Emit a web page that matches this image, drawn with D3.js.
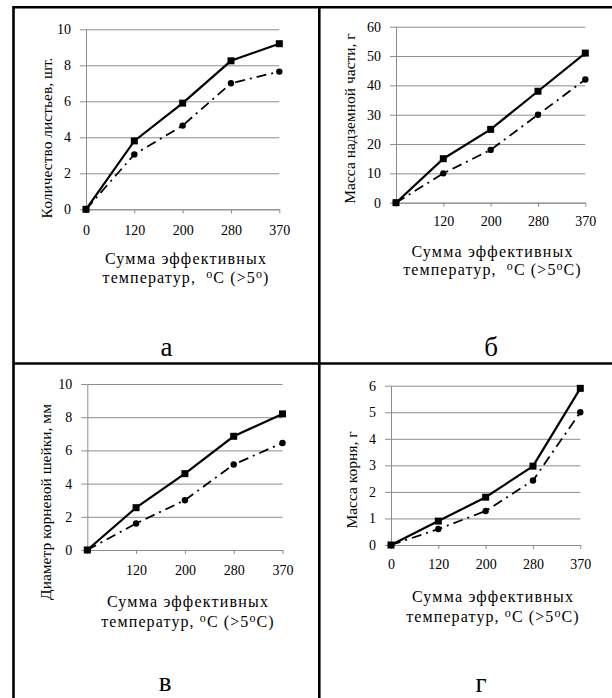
<!DOCTYPE html>
<html><head><meta charset="utf-8">
<script src="https://cdn.jsdelivr.net/npm/d3@7"></script>
<style>
html,body{margin:0;padding:0;background:#fff;}
svg{display:block;}
</style></head>
<body>
<svg id="c" width="612" height="698"></svg>
<script>
// ---------- data ----------
const categories = ["0","120","200","280","370"];
const xLabelsFull = ["0","120","200","280","370"];
const xLabelsNoZero = ["","120","200","280","370"];

// а: number of leaves
const leavesSolid  = [0, 3.8, 5.9, 8.25, 9.2];
const leavesDashed = [0, 3.05, 4.65, 7.0, 7.65];
const leavesTicks  = [0, 2, 4, 6, 8, 10];
// б: above-ground mass
const topMassSolid  = [0, 15, 25, 38, 51];
const topMassDashed = [0, 10, 18, 30, 42];
const topMassTicks  = [0, 10, 20, 30, 40, 50, 60];
// в: root collar diameter
const diamSolid  = [0, 2.55, 4.6, 6.85, 8.2];
const diamDashed = [0, 1.6, 3.0, 5.15, 6.45];
const diamTicks  = [0, 2, 4, 6, 8, 10];
// г: root mass
const rootSolid  = [0, 0.9, 1.8, 2.97, 5.9];
const rootDashed = [0, 0.6, 1.28, 2.43, 5.0];
const rootTicks  = [0, 1, 2, 3, 4, 5, 6];

const yTitles = ["Количество листьев, шт.", "Масса надземной части, г", "Диаметр корневой шейки, мм", "Масса корня, г"];
const panelLetters = ["а", "б", "в", "г"];
const xTitleLine1 = "Сумма эффективных";

const FONT = '"Liberation Serif", Tinos, "Times New Roman", "DejaVu Serif", "Noto Serif", serif';

// ---------- layout ----------
const panels = [
  {solid:leavesSolid, dashed:leavesDashed, ticks:leavesTicks, xl:xLabelsFull, yt:yTitles[0], letter:panelLetters[0],
   x0:86, x1:279.3, yb:209.3, yt0:29.3, ytx:47, yty:138, xtx:186, xty1:264, xty2:283, lx:166.5, ly:356, suffixC:false, wide:true, lblY:235},
  {solid:topMassSolid, dashed:topMassDashed, ticks:topMassTicks, xl:xLabelsNoZero, yt:yTitles[1], letter:panelLetters[1],
   x0:396, x1:585.3, yb:202.7, yt0:26.7, ytx:349.5, yty:118.5, xtx:492.5, xty1:256.5, xty2:274.5, lx:491, ly:356, suffixC:true, wide:true, lblY:226.5},
  {solid:diamSolid, dashed:diamDashed, ticks:diamTicks, xl:xLabelsNoZero, yt:yTitles[2], letter:panelLetters[2],
   x0:87.3, x1:282.5, yb:550, yt0:384, ytx:45.5, yty:502, xtx:188, xty1:606.5, xty2:626.5, lx:165, ly:691, suffixC:true, wide:false, lblY:574.5},
  {solid:rootSolid, dashed:rootDashed, ticks:rootTicks, xl:xLabelsFull, yt:yTitles[3], letter:panelLetters[3],
   x0:391, x1:580.3, yb:545, yt0:385.7, ytx:352, yty:480, xtx:493, xty1:602, xty2:622, lx:481, ly:692, suffixC:true, wide:false, lblY:569}
];

const svg = d3.select("#c");
const grid = "#8c8c8c";

panels.forEach(p => {
  const g = svg.append("g").attr("font-family", FONT);
  const x = d3.scalePoint().domain(d3.range(categories.length)).range([p.x0, p.x1]);
  const y = d3.scaleLinear().domain([0, d3.max(p.ticks)]).range([p.yb, p.yt0]);
  const w = p.x1 - p.x0;

  // gridlines
  const gg = g.append("g").attr("transform", `translate(${p.x0},0)`)
    .call(d3.axisLeft(y).tickValues(p.ticks).tickSize(-w).tickFormat(""));
  gg.select(".domain").remove();
  gg.selectAll("line").attr("stroke", grid).attr("stroke-width", 1);

  // y axis with outside ticks
  const ya = g.append("g").attr("transform", `translate(${p.x0},0)`)
    .call(d3.axisLeft(y).tickValues(p.ticks).tickFormat(d3.format("d")).tickSize(6).tickSizeOuter(0).tickPadding(9));
  ya.attr("font-family", FONT).attr("font-size", 14);
  ya.select(".domain").attr("stroke", grid);
  ya.selectAll("line").attr("stroke", grid);
  ya.selectAll("text").attr("fill", "#000");

  // x axis
  const xa = g.append("g").attr("transform", `translate(0,${p.yb})`)
    .call(d3.axisBottom(x).tickSize(4).tickSizeOuter(0).tickFormat(i => p.xl[i]).tickPadding(0));
  xa.attr("font-family", FONT).attr("font-size", 14);
  xa.select(".domain").attr("stroke", grid);
  xa.selectAll("line").attr("stroke", grid);
  xa.selectAll("text").attr("fill", "#000").attr("dy", null).attr("y", p.lblY - p.yb);

  // dashed series
  const line = d3.line().x((d, i) => x(i)).y(d => y(d));
  g.append("path").datum(p.dashed).attr("d", line).attr("fill", "none")
    .attr("stroke", "#000").attr("stroke-width", 1.8).attr("stroke-dasharray", "10,5,2,5");
  g.selectAll(".dot").data(p.dashed).enter().append("circle")
    .attr("cx", (d, i) => x(i)).attr("cy", d => y(d)).attr("r", 3.2).attr("fill", "#000");

  // solid series
  g.append("path").datum(p.solid).attr("d", line).attr("fill", "none")
    .attr("stroke", "#000").attr("stroke-width", 2.2);
  g.selectAll(".sq").data(p.solid).enter().append("rect")
    .attr("x", (d, i) => x(i) - 3.5).attr("y", d => y(d) - 3.5).attr("width", 7).attr("height", 7).attr("fill", "#000");

  // y title
  g.append("text").attr("transform", `translate(${p.ytx},${p.yty}) rotate(-90)`)
    .attr("text-anchor", "middle").attr("dy", "0.35em").attr("font-size", 15.5).text(p.yt);

  // x title
  g.append("text").attr("x", p.xtx).attr("y", p.xty1).attr("text-anchor", "middle").attr("font-size", 16)
    .attr("letter-spacing", 1.2).text(xTitleLine1);
  const t2 = g.append("text").attr("x", p.xtx).attr("y", p.xty2).attr("text-anchor", "middle").attr("font-size", 16)
    .attr("letter-spacing", 1.1);
  t2.append("tspan").text(p.wide ? "температур,\u00A0\u00A0" : "температур,\u00A0");
  t2.append("tspan").attr("dy", -5).attr("font-size", 12).text("о");
  t2.append("tspan").attr("dy", 5).text("С (>5");
  t2.append("tspan").attr("dy", -5).attr("font-size", 12).text("о");
  t2.append("tspan").attr("dy", 5).text(p.suffixC ? "С)" : ")");

  // panel letter
  g.append("text").attr("x", p.lx).attr("y", p.ly).attr("text-anchor", "middle").attr("font-size", 27).text(p.letter);
});

// table borders
const bw = 2.6;
svg.append("line").attr("x1", 13).attr("x2", 612).attr("y1", 7.3).attr("y2", 7.3).attr("stroke", "#000").attr("stroke-width", bw);
svg.append("line").attr("x1", 13.5).attr("x2", 13.5).attr("y1", 6).attr("y2", 698).attr("stroke", "#000").attr("stroke-width", bw);
svg.append("line").attr("x1", 319.3).attr("x2", 319.3).attr("y1", 6).attr("y2", 698).attr("stroke", "#000").attr("stroke-width", bw);
svg.append("line").attr("x1", 13).attr("x2", 612).attr("y1", 363.5).attr("y2", 363.5).attr("stroke", "#000").attr("stroke-width", bw);
</script>
</body></html>
